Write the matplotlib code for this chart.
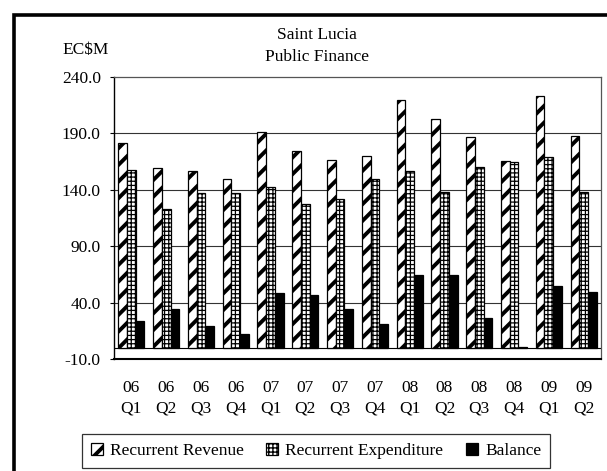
import numpy as np
import matplotlib
matplotlib.use("Agg")
import matplotlib.pyplot as plt
from matplotlib.patches import Rectangle

plt.rcParams['font.family'] = ['Liberation Serif', 'DejaVu Serif']
plt.rcParams['font.size'] = 12.5

# Quarterly public finance figures, EC$ millions
quarters = ["06\nQ1", "06\nQ2", "06\nQ3", "06\nQ4",
            "07\nQ1", "07\nQ2", "07\nQ3", "07\nQ4",
            "08\nQ1", "08\nQ2", "08\nQ3", "08\nQ4",
            "09\nQ1", "09\nQ2"]
revenue = [181.3, 159.0, 156.9, 149.5, 191.4, 174.1, 166.7, 170.3,
           219.6, 202.4, 186.4, 165.5, 223.5, 187.5]
expenditure = [157.8, 123.3, 137.0, 137.0, 142.9, 127.2, 132.0, 149.8,
               156.9, 137.9, 160.5, 164.3, 169.1, 137.9]
balance = [23.7, 34.4, 19.6, 12.1, 48.1, 46.9, 34.4, 21.1,
           64.2, 64.2, 26.1, 0.5, 54.4, 49.3]
yticks = [-10, 40, 90, 140, 190, 240]

W, H = 607, 471
fig = plt.figure(figsize=(W / 100, H / 100), dpi=100)
ax = fig.add_axes([114 / W, 1 - 359 / H, (601 - 114) / W, (359 - 77) / H])

x = np.arange(len(quarters))
w = 0.25

# gridlines first so bars sit on top
for t in yticks[1:-1]:
    ax.axhline(t, color='#333333', lw=0.8, zorder=0)
ax.axhline(0, color='black', lw=0.8, zorder=1)

b1 = ax.bar(x - w, revenue, w, color='white', edgecolor='black', lw=0.9,
            hatch='//', label='Recurrent Revenue', zorder=2)
b2 = ax.bar(x, expenditure, w, color='white', edgecolor='black', lw=0.9,
            hatch='++++', label='Recurrent Expenditure', zorder=2)
b3 = ax.bar(x + w, balance, w, color='black', edgecolor='black', lw=0.9,
            label='Balance', zorder=2)
for p in b1:
    p.set_hatch_linewidth(2.8)
for p in b2:
    p.set_hatch_linewidth(0.9)

ax.set_xlim(-0.5, len(quarters) - 0.5)
ax.set_ylim(-10, 240)
ax.set_yticks(yticks)
ax.set_yticklabels([f"{t:.1f}" for t in yticks])
ax.set_xticks(x)
ax.set_xticklabels(quarters, linespacing=1.4)
ax.tick_params(axis='x', length=0, pad=15)
ax.tick_params(axis='y', length=3, width=0.8, pad=6.5, direction='out')

ax.spines['left'].set_color('black')
ax.spines['left'].set_linewidth(1.0)
ax.spines['bottom'].set_color('black')
ax.spines['bottom'].set_linewidth(1.5)
for s in ('top', 'right'):
    ax.spines[s].set_color('#555555')
    ax.spines[s].set_linewidth(0.9)

fig.text(317 / W, 1 - 35 / H, "Saint Lucia", ha='center', va='center')
fig.text(317 / W, 1 - 57 / H, "Public Finance", ha='center', va='center')
fig.text(62 / W, 1 - 50 / H, r"EC\$M", ha='left', va='center')

leg = fig.legend(handles=[b1, b2, b3], loc='center',
                 bbox_to_anchor=(316 / W, 1 - 451 / H), ncol=3,
                 frameon=True, fancybox=False, edgecolor='black',
                 handlelength=0.7, handleheight=0.7, handletextpad=0.4,
                 columnspacing=1.3, borderpad=0.5)
leg.get_frame().set_linewidth(0.9)
for h in leg.legend_handles[:1]:
    h.set_hatch_linewidth(2.8)

# outer chart frame, only the left and top edges fall inside the image
fig.add_artist(Rectangle((14 / W, -0.5), 2.0, 0.5 + 1 - 15 / H,
                         transform=fig.transFigure, fill=False,
                         edgecolor='black', lw=2.6))

fig.savefig("out.png", dpi=100)
